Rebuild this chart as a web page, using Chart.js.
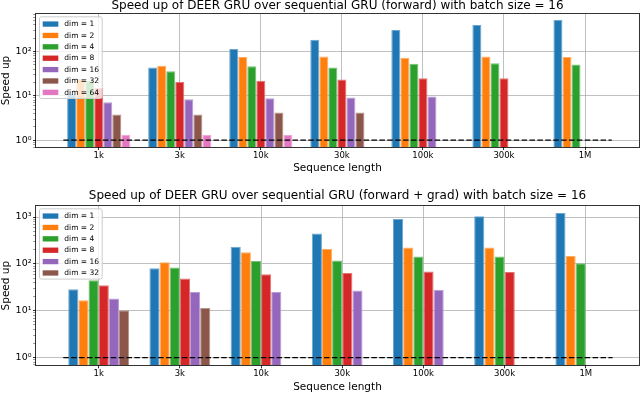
<!DOCTYPE html>
<html><head><meta charset="utf-8">
<script src="https://cdn.jsdelivr.net/npm/chart.js@4"></script>
<style>
html,body{margin:0;padding:0;background:#fff;}
#wrap{width:640px;height:394px;position:relative;overflow:hidden;}
.c{position:absolute;left:0;width:640px;}
</style></head><body>
<div id="wrap">
<div class="c" style="top:0;height:187px"><canvas id="c1"></canvas></div>
<div class="c" style="top:187px;height:207px"><canvas id="c2"></canvas></div>
</div>
<script>
const categories = ['1k', '3k', '10k', '30k', '100k', '300k', '1M'];
const seriesLabels = ['dim = 1', 'dim = 2', 'dim = 4', 'dim = 8', 'dim = 16', 'dim = 32', 'dim = 64'];
const yTickValues = [1, 10, 100, 1000];
const yTickLabels = ['10\u2070', '10\u00b9', '10\u00b2', '10\u00b3'];

// forward
const fwdDim1  = [11, 44, 115, 185, 310, 400, 525];
const fwdDim2  = [24, 48, 76, 78, 73, 78, 76];
const fwdDim4  = [22, 36, 47, 44, 53, 55, 51];
const fwdDim8  = [15, 20.5, 22, 23.5, 25, 25, null];
const fwdDim16 = [7.2, 8.4, 8.9, 9.2, 9.7, null, null];
const fwdDim32 = [3.8, 3.8, 4.2, 4.2, null, null, null];
const fwdDim64 = [1.33, 1.31, 1.31, null, null, null, null];

// forward + grad
const gradDim1  = [29, 81, 232, 448, 906, 1035, 1217];
const gradDim2  = [16.8, 109, 178, 207, 225, 225, 147];
const gradDim4  = [45, 84, 115, 119, 144, 144, 104];
const gradDim8  = [35, 49, 60, 64, 69, 67, null];
const gradDim16 = [18.3, 25.3, 25.3, 27, 28, null, null];
const gradDim32 = [10.3, 11.5, null, null, null, null, null];

const baselineValue = 1;

const colors = ['#1f77b4', '#ff7f0e', '#2ca02c', '#d62728', '#9467bd', '#8c564b', '#e377c2'];
const FONT = 'DejaVu Sans';

function lighten(hex, f) {
  const n = parseInt(hex.slice(1), 16);
  const r = (n >> 16) & 255, g = (n >> 8) & 255, b = n & 255;
  const m = c => Math.round(c + (255 - c) * f);
  return `rgb(${m(r)},${m(g)},${m(b)})`;
}
function isDecade(v) {
  const l = Math.log10(v);
  return Math.abs(l - Math.round(l)) < 1e-9;
}

const framePlugin = {
  id: 'frameLegend',
  afterDatasetsDraw(chart) {
    const {ctx, chartArea: a} = chart;
    ctx.save();
    ctx.strokeStyle = 'rgba(0,0,0,0.8)';
    ctx.lineWidth = 1;
    ctx.strokeRect(Math.round(a.left) - 0.5, Math.round(a.top) - 0.5,
                   Math.round(a.right) - Math.round(a.left) + 1, Math.round(a.bottom) - Math.round(a.top) + 1);
    // legend
    const bars = chart.data.datasets.filter(d => d.type === 'bar');
    const step = 11.38;
    const x0 = a.left + 3, y0 = a.top + 2.3;
    const w = 62.7, h = bars.length * step + 2;
    ctx.fillStyle = 'rgba(255,255,255,0.8)';
    ctx.strokeStyle = '#cccccc';
    ctx.lineWidth = 1;
    ctx.beginPath();
    if (ctx.roundRect) ctx.roundRect(x0 + 0.5, y0 + 0.5, w, h, 2); else ctx.rect(x0 + 0.5, y0 + 0.5, w, h);
    ctx.fill();
    ctx.stroke();
    ctx.font = `7.5px "${FONT}"`;
    ctx.textBaseline = 'middle';
    ctx.textAlign = 'left';
    bars.forEach((d, i) => {
      const cy = y0 + 7.7 + i * step;
      ctx.fillStyle = d.backgroundColor;
      ctx.fillRect(x0 + 3.7, cy - 2.6, 15.6, 5.3);
      ctx.fillStyle = '#000';
      ctx.fillText(d.label, x0 + 25.3, cy + 0.3);
    });
    ctx.restore();
  }
};

function makeChart(id, cfg) {
  const datasets = cfg.series.map((vals, j) => ({
    type: 'bar',
    label: seriesLabels[j],
    data: vals.map((v, i) => ({x: i, y: v})).filter(p => p.y !== null),
    backgroundColor: colors[j],
    borderColor: lighten(colors[j], 0.35),
    borderWidth: 1,
    borderSkipped: 'start',
    categoryPercentage: cfg.catPct,
    barPercentage: 1,
    order: 2
  }));
  datasets.push({
    type: 'line',
    label: 'baseline',
    data: [{x: cfg.lineFrom, y: baselineValue}, {x: cfg.lineTo, y: baselineValue}],
    borderColor: '#000',
    borderWidth: 1.2,
    borderDash: [5.5, 2.4],
    pointRadius: 0,
    fill: false,
    order: 0
  });
  return new Chart(document.getElementById(id), {
    type: 'bar',
    data: {datasets},
    plugins: [framePlugin],
    options: {
      responsive: true,
      maintainAspectRatio: false,
      animation: false,
      devicePixelRatio: 1,
      layout: {padding: {top: cfg.padTop, right: 1, left: 0, bottom: 0}},
      plugins: {
        legend: {display: false},
        tooltip: {enabled: false},
        title: {
          display: true,
          text: cfg.title,
          fullSize: false,
          color: '#000',
          font: {family: FONT, size: 12, weight: 'normal', lineHeight: 0.96},
          padding: {top: 0, bottom: cfg.titlePadBottom}
        }
      },
      scales: {
        x: {
          type: 'linear',
          offset: false,
          min: cfg.xMin,
          max: cfg.xMax,
          afterBuildTicks: axis => { axis.ticks = categories.map((c, i) => ({value: i})); },
          afterFit: axis => { axis.height = cfg.xAxisHeight; },
          ticks: {
            autoSkip: false, maxRotation: 0, padding: 0.5, color: '#000',
            font: {family: FONT, size: 8.5},
            callback: v => categories[Math.round(v)] ?? ''
          },
          grid: {offset: false, color: '#b0b0b0', lineWidth: 0.8, tickLength: 3, tickColor: '#000', tickWidth: 0.8},
          border: {display: false},
          title: {
            display: true, text: 'Sequence length', color: '#000',
            font: {family: FONT, size: 10.5, lineHeight: 1.2},
            padding: {top: 0, bottom: cfg.xTitlePadBottom}
          }
        },
        y: {
          type: 'logarithmic',
          min: cfg.yMin,
          max: cfg.yMax,
          afterBuildTicks: axis => {
            const t = [];
            for (let e = -1; e <= 4; e++) for (let m = 1; m < 10; m++) {
              const v = m * Math.pow(10, e);
              if (v >= axis.min && v <= axis.max) t.push({value: v});
            }
            axis.ticks = t;
          },
          afterFit: axis => { axis.width = 36; },
          ticks: {
            autoSkip: false, padding: 1.5, color: '#000',
            font: {family: FONT, size: 9.5},
            callback: v => { const k = yTickValues.findIndex(t => Math.abs(t - v) < 1e-9 * t); return k >= 0 ? yTickLabels[k] : ''; }
          },
          grid: {
            color: c => (c.tick && isDecade(c.tick.value)) ? '#b0b0b0' : 'rgba(0,0,0,0)',
            lineWidth: 0.8,
            tickLength: 3,
            tickColor: c => (c.tick && isDecade(c.tick.value)) ? '#000' : '#444',
            tickWidth: c => (c.tick && isDecade(c.tick.value)) ? 0.8 : 0.5
          },
          border: {display: false},
          title: {
            display: true, text: 'Speed up', color: '#000',
            font: {family: FONT, size: 10.5, lineHeight: 1.2},
            padding: {top: 0, bottom: 0}
          }
        }
      }
    }
  });
}

makeChart('c1', {
  title: 'Speed up of DEER GRU over sequential GRU (forward) with batch size = 16',
  series: [fwdDim1, fwdDim2, fwdDim4, fwdDim8, fwdDim16, fwdDim32, fwdDim64],
  catPct: 0.78,
  xMin: -0.774, xMax: 6.666,
  lineFrom: -0.436, lineTo: 6.33,
  yMin: 0.746, yMax: 708,
  padTop: 0, titlePadBottom: 2.5,
  xAxisHeight: 40, xTitlePadBottom: 12.7
});

makeChart('c2', {
  title: 'Speed up of DEER GRU over sequential GRU (forward + grad) with batch size = 16',
  series: [gradDim1, gradDim2, gradDim4, gradDim8, gradDim16, gradDim32],
  catPct: 0.75,
  xMin: -0.772, xMax: 6.655,
  lineFrom: -0.436, lineTo: 6.33,
  yMin: 0.689, yMax: 1717,
  padTop: 3.5, titlePadBottom: 4,
  xAxisHeight: 28.7, xTitlePadBottom: 0.7
});
</script>
</body></html>
